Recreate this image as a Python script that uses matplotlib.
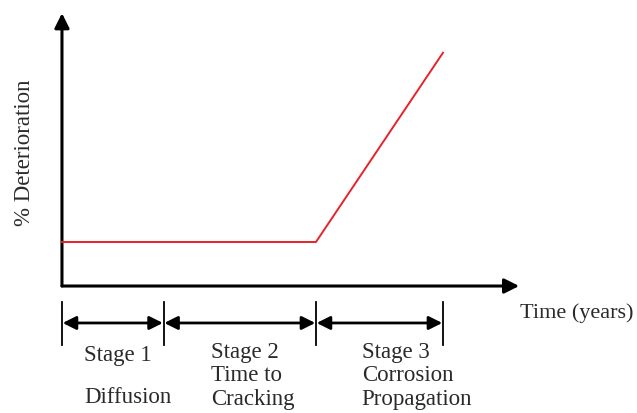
import matplotlib.pyplot as plt
from matplotlib.patches import FancyArrowPatch

plt.rcParams['font.family'] = ['Liberation Serif', 'DejaVu Serif']

# Schematic data (abstract units)
stage_bounds = [0, 4, 10, 15]          # time where each stage starts / ends
stage_titles = ['Stage 1', 'Stage 2', 'Stage 3']
stage_desc = [['Diffusion'], ['Time to', 'Cracking'], ['Corrosion', 'Propagation']]
curve_t = [0, 10, 15]
curve_d = [1.0, 1.0, 5.3]

fig = plt.figure(figsize=(6.37, 4.13), dpi=100)
ax = fig.add_axes([0, 0, 1, 1])
ax.set_xlim(-2.44, 22.64)
ax.set_ylim(-2.886, 6.5)
ax.axis('off')

# axes with arrow heads
ax.add_patch(FancyArrowPatch((0, 0), (0, 6.2), arrowstyle='-|>', mutation_scale=22,
                             lw=2.2, color='black', shrinkA=0, shrinkB=0))
ax.add_patch(FancyArrowPatch((0, 0), (18.0, 0), arrowstyle='-|>', mutation_scale=22,
                             lw=2.2, color='black', shrinkA=0, shrinkB=0))

# deterioration curve
ax.plot(curve_t, curve_d, color='#e8212b', lw=1.4)

# stage markers
for b in stage_bounds:
    ax.plot([b, b], [-0.36, -1.34], color='black', lw=1.3)
for i in range(3):
    ax.add_patch(FancyArrowPatch((stage_bounds[i], -0.84), (stage_bounds[i + 1], -0.84),
                                 arrowstyle='<|-|>', mutation_scale=20, lw=2.0,
                                 color='black', shrinkA=0.5, shrinkB=0.5))

# stage labels
fs = 16.5
tc = '#2a2a2a'
label_x = [0.87, 5.87, 11.8]
title_y = [-1.57, -1.50, -1.50]
desc_y = [[-2.545], [-2.045, -2.59], [-2.045, -2.57]]
for i in range(3):
    ax.text(label_x[i], title_y[i], stage_titles[i], ha='left', va='center',
            fontsize=fs, color=tc)
    for line, yy in zip(stage_desc[i], desc_y[i]):
        ax.text(label_x[i], yy, line, ha='left', va='center', fontsize=fs, color=tc)

ax.text(18.05, -0.61, 'Time (years)', ha='left', va='center', fontsize=16, color=tc)
ax.text(-1.46, 3.02, '% Deterioration', ha='center', va='center', rotation=90,
        fontsize=fs, color=tc)

fig.savefig('out.png', dpi=100)
